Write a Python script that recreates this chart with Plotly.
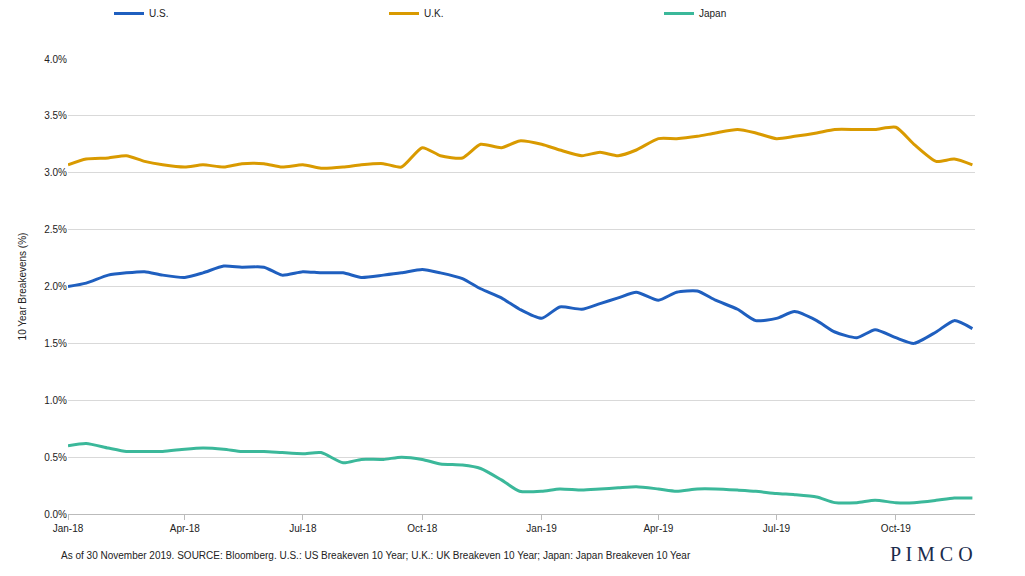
import plotly.graph_objects as go
import pandas as pd

dates = []
for y in (2018, 2019):
    for m in range(1, 13):
        if y == 2019 and m == 12:
            break
        dates.append(f"{y}-{m:02d}-01")
        dates.append(f"{y}-{m:02d}-15")
dates.append("2019-11-29")

us = [2.0,2.03,2.1,2.12,2.13,2.1,2.08,2.12,2.18,2.17,2.17,2.1,2.13,2.12,2.12,2.08,2.1,2.12,2.15,2.12,2.07,1.98,1.9,1.8,
      1.72,1.82,1.8,1.85,1.9,1.95,1.88,1.95,1.96,1.88,1.8,1.7,1.72,1.78,1.7,1.6,1.55,1.62,1.55,1.5,1.6,1.7,1.63]
uk = [3.07,3.12,3.13,3.15,3.1,3.07,3.05,3.07,3.05,3.08,3.08,3.05,3.07,3.04,3.05,3.07,3.08,3.05,3.22,3.15,3.13,3.25,3.22,3.28,
      3.25,3.2,3.15,3.18,3.15,3.2,3.3,3.3,3.32,3.35,3.38,3.35,3.3,3.32,3.35,3.38,3.38,3.38,3.4,3.25,3.1,3.12,3.07]
jp = [0.6,0.62,0.58,0.55,0.55,0.55,0.57,0.58,0.57,0.55,0.55,0.54,0.53,0.54,0.45,0.48,0.48,0.5,0.48,0.44,0.43,0.4,0.3,0.2,
      0.2,0.22,0.21,0.22,0.23,0.24,0.22,0.2,0.22,0.22,0.21,0.2,0.18,0.17,0.15,0.1,0.1,0.12,0.1,0.1,0.12,0.14,0.14]

names = ["U.S.", "U.K.", "Japan"]
colors = ["#1f5fbf", "#d99a00", "#3bb89a"]

fig = go.Figure()
for n, s, c in zip(names, [us, uk, jp], colors):
    fig.add_trace(go.Scatter(x=pd.to_datetime(dates), y=s, name=n, mode="lines",
                             line=dict(color=c, width=3, shape="spline", smoothing=0.6)))

fig.update_layout(
    width=1025, height=576, plot_bgcolor="white", paper_bgcolor="white",
    margin=dict(l=60, r=58, t=51, b=70, autoexpand=False),
    font=dict(family="Arial, Liberation Sans", size=10, color="#222"),
    legend=dict(orientation="h", x=0.5, xanchor="center", y=1.1, yanchor="middle",
                font=dict(size=10), traceorder="normal", entrywidth=230, entrywidthmode="pixels"),
    yaxis=dict(range=[0, 4], dtick=0.5, tickformat=".1f", ticksuffix="%",
               gridcolor="#d9d9d9", zeroline=False, showline=False,
               title=dict(text="10 Year Breakevens (%)", font=dict(size=10))),
    xaxis=dict(range=["2018-01-01", "2019-12-01"], tickvals=pd.to_datetime(
        ["2018-01-01","2018-04-01","2018-07-01","2018-10-01","2019-01-01","2019-04-01","2019-07-01","2019-10-01"]),
        tickformat="%b-%y", showline=True, linecolor="#bbb", ticks="outside", tickcolor="#bbb",
        showgrid=False),
)
fig.add_annotation(text="As of 30 November 2019. SOURCE: Bloomberg. U.S.: US Breakeven 10 Year; U.K.: UK Breakeven 10 Year; Japan: Japan Breakeven 10 Year",
                   xref="paper", yref="paper", x=-0.01, y=-0.075, xanchor="left", yanchor="top",
                   showarrow=False, font=dict(size=10))
fig.add_annotation(text="P I M C O", xref="paper", yref="paper", x=1.0, y=-0.06, xanchor="right", yanchor="top",
                   showarrow=False, font=dict(size=20, family="Liberation Serif", color="#1a2b4c"))
fig.write_html("out.html")
